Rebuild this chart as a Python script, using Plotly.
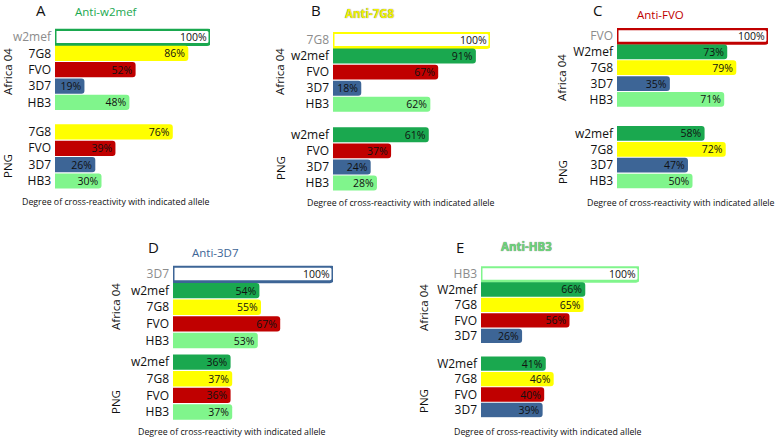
import plotly.graph_objects as go

# ---------------- data ----------------
panel_letters = ["A", "B", "C", "D", "E"]
panel_titles = ["Anti-w2mef", "Anti-7G8", "Anti-FVO", "Anti-3D7", "Anti-HB3"]
group_names = ["Africa 04", "PNG"]
x_title = "Degree of cross-reactivity with indicated allele"

a_africa_alleles = ["w2mef", "7G8", "FVO", "3D7", "HB3"]
a_africa_values = [100, 86, 52, 19, 48]
a_png_alleles = ["7G8", "FVO", "3D7", "HB3"]
a_png_values = [76, 39, 26, 30]

b_africa_alleles = ["7G8", "w2mef", "FVO", "3D7", "HB3"]
b_africa_values = [100, 91, 67, 18, 62]
b_png_alleles = ["w2mef", "FVO", "3D7", "HB3"]
b_png_values = [61, 37, 24, 28]

c_africa_alleles = ["FVO", "W2mef", "7G8", "3D7", "HB3"]
c_africa_values = [100, 73, 79, 35, 71]
c_png_alleles = ["w2mef", "7G8", "3D7", "HB3"]
c_png_values = [58, 72, 47, 50]

d_africa_alleles = ["3D7", "w2mef", "7G8", "FVO", "HB3"]
d_africa_values = [100, 54, 55, 67, 53]
d_png_alleles = ["w2mef", "7G8", "FVO", "HB3"]
d_png_values = [36, 37, 36, 37]

e_africa_alleles = ["HB3", "W2mef", "7G8", "FVO", "3D7"]
e_africa_values = [100, 66, 65, 56, 26]
e_png_alleles = ["W2mef", "7G8", "FVO", "3D7"]
e_png_values = [41, 46, 40, 39]

# ---------------- styles ----------------
allele_colors = {
    "w2mef": "#1aa84f",
    "7g8": "#ffff00",
    "fvo": "#c00000",
    "3d7": "#3d6596",
    "hb3": "#80f58c",
}
title_colors = ["#1aa84f", "#f2f200", "#c00000", "#3d6596", "#6cd47a"]
title_bold = [False, True, False, False, True]

W, H = 775, 437
FONT = "Open Sans"

# per-panel layout in pixels: x of 0%, x of 100%, y of first row, y of last row, extra gap rows
panel_layout = [
    dict(x0=55, x100=210, ytop=37, ybot=181, gap=0.8,
         letter=(41, 10.5), title=(106, 11), xt=(116, 202), afr=(7, 72), png=(7, 166)),
    dict(x0=333, x100=490, ytop=40, ybot=183, gap=0.9,
         letter=(316, 10.5), title=(370, 13), xt=(401, 203), afr=(279, 72), png=(280, 168)),
    dict(x0=617, x100=768, ytop=36, ybot=181, gap=1.15,
         letter=(597, 10.5), title=(660, 14), xt=(681, 203), afr=(562, 78), png=(562, 172)),
    dict(x0=173, x100=333, ytop=274, ybot=412, gap=0.3,
         letter=(153, 247), title=(215, 252), xt=(232, 432), afr=(115, 306), png=(115, 402)),
    dict(x0=481, x100=639, ytop=274, ybot=410, gap=0.8,
         letter=(460, 247), title=(526, 247), xt=(548, 432), afr=(423, 308), png=(423, 401)),
]

panels = [
    (a_africa_alleles, a_africa_values, a_png_alleles, a_png_values),
    (b_africa_alleles, b_africa_values, b_png_alleles, b_png_values),
    (c_africa_alleles, c_africa_values, c_png_alleles, c_png_values),
    (d_africa_alleles, d_africa_values, d_png_alleles, d_png_values),
    (e_africa_alleles, e_africa_values, e_png_alleles, e_png_values),
]


def px(x):
    return x / W


def py(y):
    return 1 - y / H


fig = go.Figure()
annotations = []

for k, (afr_al, afr_v, png_al, png_v) in enumerate(panels):
    L = panel_layout[k]
    gap = L["gap"]
    positions = list(range(len(afr_al))) + [len(afr_al) + gap + j for j in range(len(png_al))]
    alleles = afr_al + png_al
    values = afr_v + png_v
    last = positions[-1]
    pitch = (L["ybot"] - L["ytop"]) / last
    dom_top = L["ytop"] - pitch / 2
    dom_bot = L["ybot"] + pitch / 2

    fills, lcols, lwid = [], [], []
    for i, a in enumerate(alleles):
        c = allele_colors[a.lower()]
        if i == 0:
            fills.append("white")
            lcols.append(c)
            lwid.append(3)
        else:
            fills.append(c)
            lcols.append(c)
            lwid.append(0)

    ticktext = []
    for i, a in enumerate(alleles):
        if i == 0:
            ticktext.append(f'<span style="color:#8c8c8c">{a}</span>')
        else:
            ticktext.append(a)

    sfx = "" if k == 0 else str(k + 1)
    fig.add_trace(go.Bar(
        orientation="h",
        x=values,
        y=positions,
        width=0.93,
        marker=dict(color=fills, line=dict(color=lcols, width=lwid), cornerradius=3),
        text=[f"{v}%" for v in values],
        textposition="inside",
        insidetextanchor="end",
        constraintext="none",
        textfont=dict(family=FONT, size=10.5, color="#111"),
        cliponaxis=False,
        xaxis="x" + sfx,
        yaxis="y" + sfx,
        showlegend=False,
        hoverinfo="skip",
    ))
    fig.layout["xaxis" + sfx] = dict(
        domain=[px(L["x0"]), px(L["x100"])], range=[0, 100],
        visible=False, anchor="y" + sfx,
    )
    fig.layout["yaxis" + sfx] = dict(
        domain=[py(dom_bot), py(dom_top)], range=[last + 0.5, -0.5],
        tickvals=positions, ticktext=ticktext, showgrid=False, zeroline=False,
        showline=False, ticks="", ticklabelstandoff=3, anchor="x" + sfx,
        tickfont=dict(family=FONT, size=12, color="#111"),
    )

    def ann(text, pos, size, color="#111", angle=0, bold=False, shadow=None):
        f = dict(family=FONT, size=size, color=color)
        if bold:
            f["weight"] = "bold"
        if shadow:
            f["shadow"] = shadow
        annotations.append(dict(
            text=text, x=px(pos[0]), y=py(pos[1]), xref="paper", yref="paper",
            xanchor="center", yanchor="middle", showarrow=False, textangle=angle, font=f,
            borderpad=0,
        ))

    ann(panel_letters[k], L["letter"], 15, "#111")
    ann(panel_titles[k], L["title"], 11.5, title_colors[k], bold=title_bold[k],
        shadow=("0px 0px 1px #555" if title_bold[k] else None))
    ann(x_title, L["xt"], 8.8, "#111")
    ann(group_names[0], L["afr"], 11.5, "#111", angle=-90)
    ann(group_names[1], L["png"], 11.5, "#111", angle=-90)

fig.update_layout(
    width=W, height=H, margin=dict(l=0, r=0, t=0, b=0),
    paper_bgcolor="white", plot_bgcolor="white",
    annotations=annotations, barmode="overlay",
    font=dict(family=FONT),
)

fig.write_html(
    "out.html",
    config={"displayModeBar": False, "staticPlot": True},
    post_script="document.body.style.margin='0';document.body.style.overflow='hidden';",
)
